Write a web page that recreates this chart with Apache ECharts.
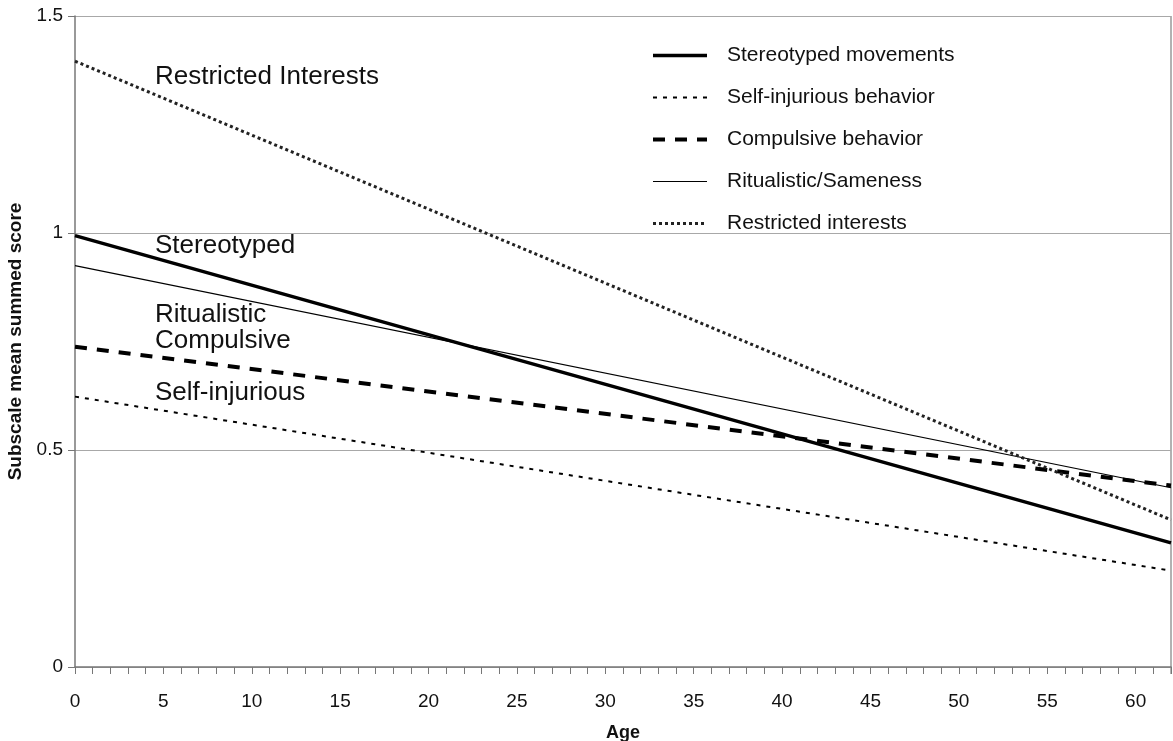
<!DOCTYPE html>
<html>
<head>
<meta charset="utf-8">
<script src="https://cdn.jsdelivr.net/npm/echarts@6/dist/echarts.min.js"></script>
<style>
html,body{margin:0;padding:0;background:#fff;overflow:hidden;}
#chart{width:1173px;height:741px;}
</style>
</head>
<body>
<div id="chart"></div>
<script>
// Data
var ages = [0, 62];
var stereotyped = [0.994, 0.286];
var selfInjurious = [0.623, 0.222];
var compulsive = [0.738, 0.418];
var ritualistic = [0.925, 0.413];
var restricted = [1.396, 0.339];
var seriesNames = ['Stereotyped movements', 'Self-injurious behavior', 'Compulsive behavior', 'Ritualistic/Sameness', 'Restricted interests'];
var yTicks = [0, 0.5, 1, 1.5];
var annotations = ['Restricted Interests', 'Stereotyped', 'Ritualistic', 'Compulsive', 'Self-injurious'];

function pairs(vals) { return ages.map(function (a, i) { return [a, vals[i]]; }); }

var FONT = 'Liberation Sans, Arial, sans-serif';
var chart = echarts.init(document.getElementById('chart'));

var styles = [
  { color: '#000', width: 3.5, type: 'solid' },
  { color: '#000', width: 2, type: [4, 6] },
  { color: '#000', width: 4, type: [12, 10] },
  { color: '#000', width: 1.2, type: 'solid' },
  { color: '#222', width: 3, type: [3, 3] }
];
var values = [stereotyped, selfInjurious, compulsive, ritualistic, restricted];

var series = seriesNames.map(function (n, i) {
  return {
    name: n, type: 'line', data: pairs(values[i]), symbol: 'none', z: i === 0 ? 5 : 3,
    itemStyle: { color: '#000', opacity: 0 },
    lineStyle: styles[i], silent: true, animation: false
  };
});

chart.setOption({
  animation: false,
  textStyle: { fontFamily: FONT },
  grid: { left: 75, right: 2, top: 16, bottom: 74, outerBoundsMode: 'none', containLabel: false },
  legend: {
    orient: 'vertical', left: 646, top: 40,
    itemWidth: 54, itemHeight: 14, itemGap: 21,
    itemStyle: { opacity: 0 },
    textStyle: { fontSize: 21, color: '#111', fontFamily: FONT, padding: [0, 0, 0, 15], lineHeight: 21 },
    data: seriesNames.map(function (n, i) {
      return { name: n, lineStyle: { width: styles[i].width, type: styles[i].type, color: styles[i].color } };
    })
  },
  xAxis: {
    type: 'value', min: 0, max: 62, interval: 1,
    name: 'Age', nameLocation: 'middle', nameGap: 57,
    nameTextStyle: { fontSize: 18, fontWeight: 'bold', color: '#111', fontFamily: FONT },
    axisLine: { show: true, lineStyle: { color: '#777', width: 1.5 } },
    axisTick: { show: true, length: 7, lineStyle: { color: '#777' } },
    axisLabel: {
      fontSize: 19, color: '#111', margin: 25, fontFamily: FONT,
      formatter: function (v) { return v % 5 === 0 ? String(v) : ''; }
    },
    splitLine: { show: false }
  },
  yAxis: {
    type: 'value', min: 0, max: 1.5, interval: 0.5,
    name: 'Subscale mean summed score', nameLocation: 'middle', nameGap: 47, nameRotate: 90,
    nameTextStyle: { fontSize: 19, fontWeight: 'bold', color: '#111', fontFamily: FONT },
    axisLine: { show: true, lineStyle: { color: '#777', width: 1.5 } },
    axisTick: { show: true, length: 7, lineStyle: { color: '#777' } },
    axisLabel: {
      fontSize: 19, color: '#111', margin: 12, fontFamily: FONT,
      formatter: function (v) { return yTicks.indexOf(v) >= 0 ? String(v) : ''; }
    },
    splitLine: { show: true, lineStyle: { color: '#a8a8a8', width: 1.2 } }
  },
  graphic: [
    { type: 'line', shape: { x1: 1171, y1: 16, x2: 1171, y2: 674 }, style: { stroke: '#999', lineWidth: 1.5 } },
    { type: 'text', left: 155, top: 64, style: { text: annotations[0], fontSize: 26, fill: '#111', fontFamily: FONT } },
    { type: 'text', left: 155, top: 233, style: { text: annotations[1], fontSize: 26, fill: '#111', fontFamily: FONT } },
    { type: 'text', left: 155, top: 302, style: { text: annotations[2], fontSize: 26, fill: '#111', fontFamily: FONT } },
    { type: 'text', left: 155, top: 328, style: { text: annotations[3], fontSize: 26, fill: '#111', fontFamily: FONT } },
    { type: 'text', left: 155, top: 380, style: { text: annotations[4], fontSize: 26, fill: '#111', fontFamily: FONT } }
  ],
  series: series
});
</script>
</body>
</html>
